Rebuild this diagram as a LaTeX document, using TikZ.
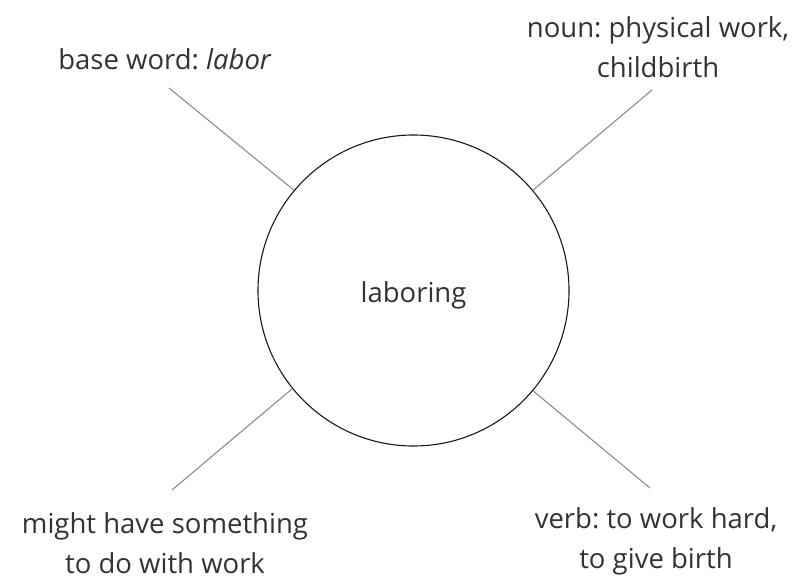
\documentclass[tikz,border=0pt]{standalone}
\usepackage{fontspec}
\setmainfont{Open Sans}
\frenchspacing
\begin{document}
\begin{tikzpicture}[x=1pt, y=-1pt,
    every node/.style={font=\fontsize{27.5}{40}\selectfont, text=black!80, align=center},
    spoke/.style={draw=black!45, line width=1.1pt}]
            \useasboundingbox (0,0) rectangle (799,583);
            \node[draw=black!90, line width=1.1pt, circle, minimum size=311pt, inner sep=0pt] (hub) at (413.5,290.5) {};
            \node (word) at (413.5,295) {laboring};
            % labels round the circle
            \node (base) at (165,59) {base word: \textit{labor}};
            \node (noun) at (658,47) {noun: physical work,\\childbirth};
            \node (might) at (165,543) {might have something\\to do with work};
            \node (verb) at (656,541) {verb: to work hard,\\to give birth};
            % free ends of the spokes
            \coordinate (tl) at (169,88);
            \coordinate (tr) at (652,90);
            \coordinate (bl) at (172,490);
            \coordinate (br) at (650,488);
            \draw[spoke] (tl) -- (hub.140);
            \draw[spoke] (tr) -- (hub.40);
            \draw[spoke] (bl) -- (hub.219);
            \draw[spoke] (br) -- (hub.-40);
        \end{tikzpicture}
\end{document}
